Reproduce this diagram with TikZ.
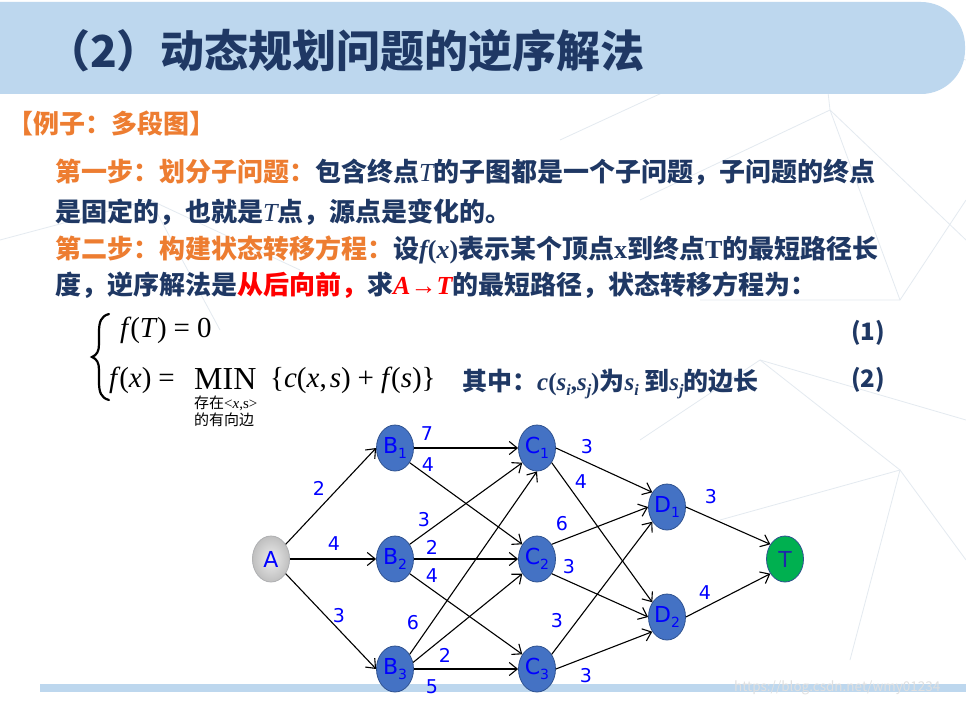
\documentclass[tikz,border=0pt]{standalone}
\usepackage{fontspec}
\setmainfont{Noto Sans CJK SC}
\newfontfamily\tms{Liberation Serif}
\newfontfamily\dvs{DejaVu Sans}
\usetikzlibrary{arrows.meta,shapes.geometric,shadings}
\definecolor{navy}{HTML}{1F3864}
\definecolor{orng}{HTML}{ED7D31}
\definecolor{bannerblue}{HTML}{BDD7EE}
\definecolor{nodeblue}{HTML}{4472C4}
\definecolor{nodeedge}{HTML}{2F528F}
\definecolor{lblblue}{HTML}{0000FF}
\definecolor{tgreen}{HTML}{00B050}
\definecolor{bgline}{HTML}{E4EAF0}
\newcommand{\sub}[2]{#1\raisebox{-5pt}{\fontsize{14}{14}\selectfont #2}}
\newcommand{\ssub}[1]{\raisebox{-5pt}{\fontsize{16}{16}\selectfont #1}}
\begin{document}
\begin{tikzpicture}[x=1pt,y=-1pt,
  body/.style={anchor=west,inner sep=0pt,font=\fontsize{26}{26}\selectfont\bfseries,text=navy},
  mth/.style={anchor=west,inner sep=0pt,font=\tms\fontsize{29}{29}\selectfont},
  gnode/.style={ellipse,draw=nodeedge,line width=0.8pt,fill=nodeblue,minimum width=37pt,minimum height=46pt,inner sep=0pt,text=lblblue,font=\dvs\fontsize{22}{22}\selectfont},
  edge/.style={draw=black,line width=1.1pt,-{Straight Barb[length=8pt,width=13pt]}},
  lbl/.style={text=lblblue,font=\dvs\fontsize{19}{19}\selectfont,inner sep=0pt}]
\useasboundingbox (0,0) rectangle (966,706);
\clip (0,0) rectangle (966,706);
\fill[white] (0,0) rectangle (966,706);
% faint background network
\begin{scope}[draw=bgline,line width=0.8pt]
\draw (560,140) -- (820,20) -- (966,60);
\draw (640,200) -- (830,110) -- (966,240);
\draw (820,20) -- (830,110) -- (900,300);
\draw (700,300) -- (900,300) -- (966,200);
\draw (640,440) -- (760,360) -- (966,420);
\draw (720,520) -- (900,470) -- (966,560);
\draw (760,360) -- (900,470) -- (850,660);
\draw (0,240) -- (150,200) -- (220,330);
\draw (150,200) -- (300,270);
\end{scope}
% banner
\fill[bannerblue,rounded corners=44pt] (-80,2) rectangle (965,94);
\node[anchor=west,inner sep=0pt,font=\fontsize{44}{44}\selectfont\bfseries,text=navy] (title) at (46,51) {（2）动态规划问题的逆序解法};
% text lines
\node[body,text=orng] (ex) at (7,123) {【例子：多段图】};
\node[body] (l1) at (55,172) {\color{orng}第一步：划分子问题：\color{navy}包含终点{\tms\mdseries\itshape T}的子图都是一个子问题，子问题的终点};
\node[body] (l2) at (55,212) {是固定的，也就是{\tms\mdseries\itshape T}点，源点是变化的。};
\node[body] (l3) at (55,250) {\color{orng}第二步：构建状态转移方程：\color{navy}设{\tms\itshape f}{\tms(}{\tms\itshape x}{\tms)}表示某个顶点{\tms x}到终点{\tms T}的最短路径长};
\node[body] (l4) at (55,285) {度，逆序解法是\color{red}从后向前，\color{navy}求{\color{red}\tms\itshape A→T}的最短路径，状态转移方程为：};
% formula
\draw[line width=2.2pt,line cap=round] (109,314) .. controls (101,316) and (99,322) .. (99,332) -- (99,344) .. controls (99,351) and (97,355) .. (92,357) .. controls (97,359) and (99,363) .. (99,370) -- (99,382) .. controls (99,392) and (101,398) .. (109,400);
\node[mth] (f1) at (120,330) {\itshape f\hspace{2pt}\upshape(\itshape T\hspace{1pt}\upshape)\hspace{7pt}=\hspace{7pt}0};
\node[mth] (f2) at (109,380) {\itshape f\hspace{2pt}\upshape(\itshape x\upshape)\hspace{7pt}=};
\node[anchor=base west,inner sep=0pt,font=\tms\fontsize{32}{32}\selectfont] (min) at (194,389) {MIN};
\node[mth] (f3) at (270,380) {\{\itshape c\upshape(\itshape x\upshape,\hspace{3pt}\itshape s\upshape)\hspace{7pt}+\hspace{7pt}\itshape f\hspace{2pt}\upshape(\itshape s\upshape)\}};
\node[anchor=west,inner sep=0pt,font=\fontsize{15}{15}\selectfont] (sub1) at (194,403) {存在{\tms<\itshape x\upshape,s>}};
\node[anchor=west,inner sep=0pt,font=\fontsize{15}{15}\selectfont] (sub2) at (194,420) {的有向边};
\node[body,font=\fontsize{25}{25}\selectfont\bfseries] (where) at (462,384) {其中：{\tms\itshape c\upshape(\itshape s\ssub{i}\upshape,\itshape s\ssub{j}\upshape)}为{\tms\itshape s\ssub{i}} 到{\tms\itshape s\ssub{j}}的边长};
\node[body,font=\fontsize{24}{24}\selectfont\bfseries] (n1) at (851,333) {(1)};
\node[body,font=\fontsize{24}{24}\selectfont\bfseries] (n2) at (851,380) {(2)};
% bottom bar
\fill[bannerblue] (40,684) rectangle (966,692);
\node[anchor=west,inner sep=0pt,text=black!12,font=\fontsize{13.5}{13.5}\selectfont] (wm) at (734,688) {https://blog.csdn.net/wmy01234};
% graph
\node[gnode,draw=gray!60,shade,inner color=gray!15,outer color=gray!50] (A) at (271,559) {A};
\node[gnode] (B1) at (395,448) {\sub{B}{1}};
\node[gnode] (B2) at (395,559) {\sub{B}{2}};
\node[gnode] (B3) at (395,669) {\sub{B}{3}};
\node[gnode] (C1) at (537,448) {\sub{C}{1}};
\node[gnode] (C2) at (537,559) {\sub{C}{2}};
\node[gnode] (C3) at (537,669) {\sub{C}{3}};
\node[gnode] (D1) at (667,507) {\sub{D}{1}};
\node[gnode] (D2) at (667,617) {\sub{D}{2}};
\node[gnode,fill=tgreen,text={rgb,255:red,30;green,40;blue,170}] (T) at (785,559) {T};
\foreach \a/\b in {A.45/B1.west,A.east/B2.west,A.-45/B3.west,
  B1.east/C1.west,B1.-45/C2.135,
  B2.45/C1.-135,B2.east/C2.west,B2.-45/C3.135,
  B3.45/C1.south,B3.20/C2.-135,B3.east/C3.west,
  C1.east/D1.135,C1.-45/D2.135,
  C2.45/D1.west,C2.-45/D2.west,
  C3.45/D1.-135,C3.east/D2.-135,
  D1.east/T.135,D2.east/T.-135}
  \draw[edge] (\a) -- (\b);
\node[lbl] (w1) at (319,488) {2};
\node[lbl] (w2) at (334,544) {4};
\node[lbl] (w3) at (339,616) {3};
\node[lbl] (w4) at (427,434) {7};
\node[lbl] (w5) at (428,465) {4};
\node[lbl] (w6) at (424,520) {3};
\node[lbl] (w7) at (432,547) {2};
\node[lbl] (w8) at (432,576) {4};
\node[lbl] (w9) at (413,623) {6};
\node[lbl] (w10) at (445,655) {2};
\node[lbl] (w11) at (432,687) {5};
\node[lbl] (w12) at (587,447) {3};
\node[lbl] (w13) at (581,482) {4};
\node[lbl] (w14) at (562,524) {6};
\node[lbl] (w15) at (569,567) {3};
\node[lbl] (w16) at (557,621) {3};
\node[lbl] (w17) at (586,676) {3};
\node[lbl] (w18) at (711,497) {3};
\node[lbl] (w19) at (705,593) {4};
\end{tikzpicture}
\end{document}
